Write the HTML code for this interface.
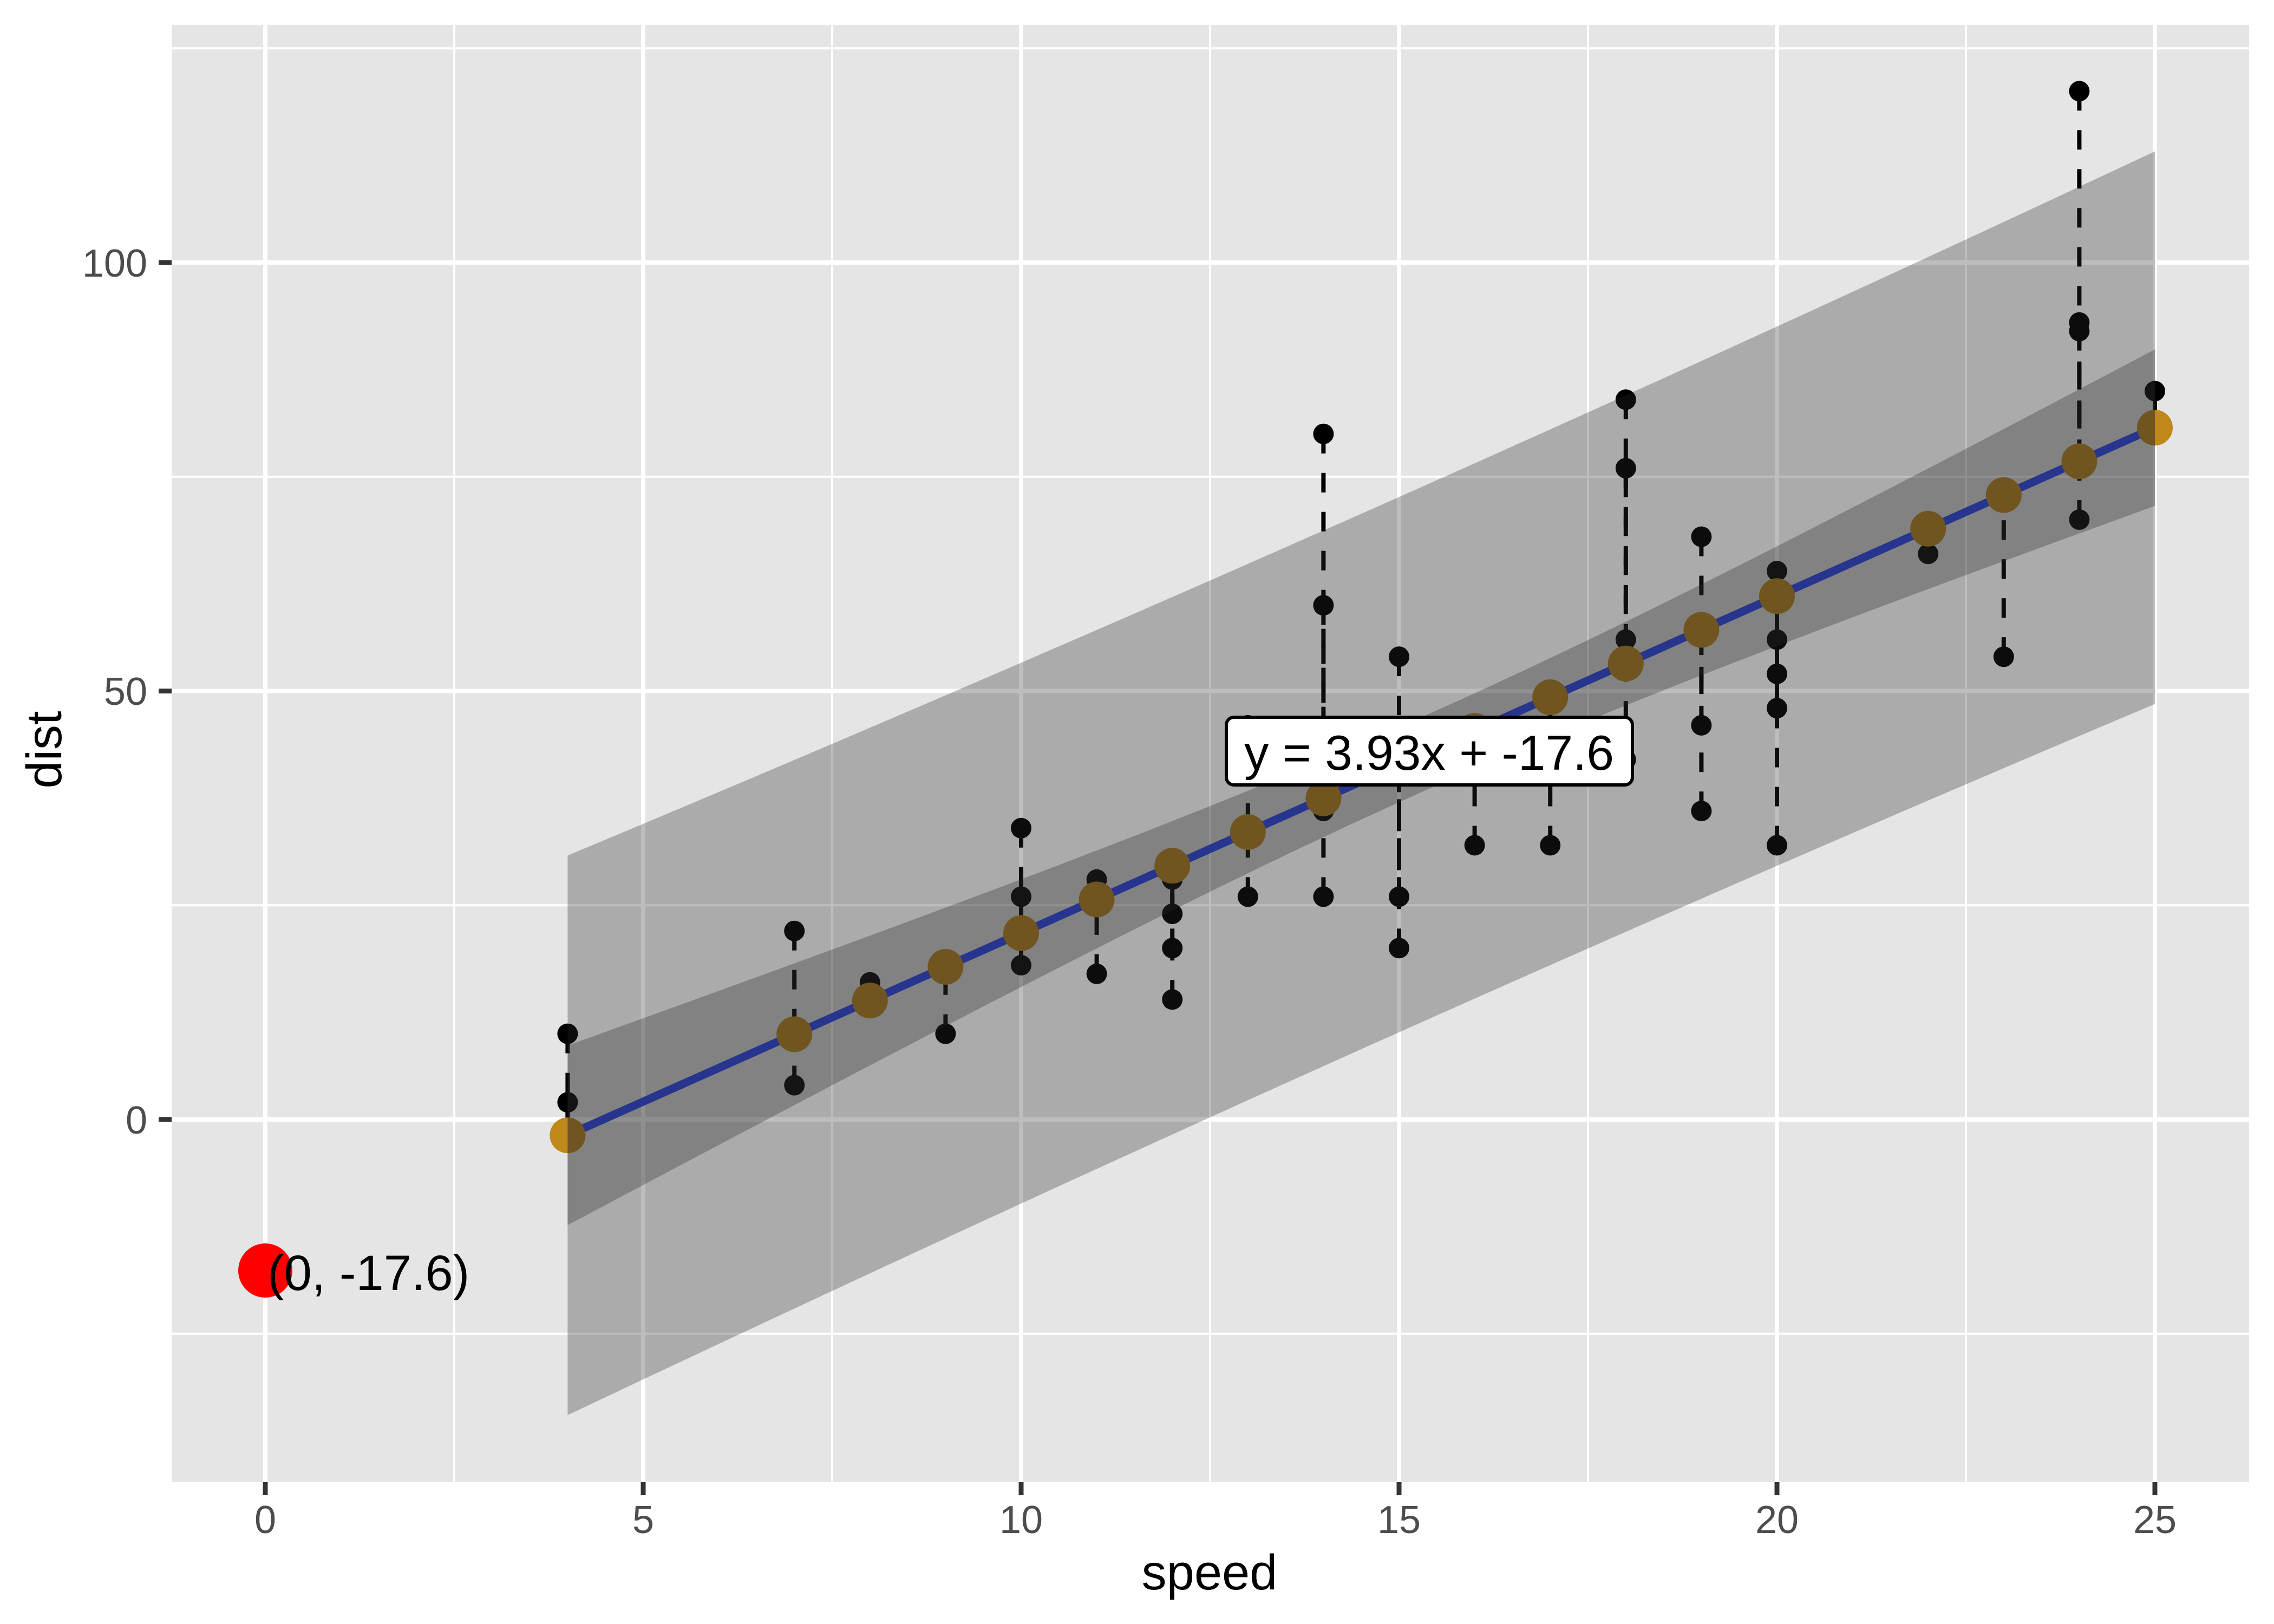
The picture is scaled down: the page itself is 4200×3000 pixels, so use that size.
<!DOCTYPE html>
<html><head><meta charset="utf-8"><style>
html,body{margin:0;padding:0;background:#fff;}
svg{display:block;}
text{font-family:"Liberation Sans",Arial,sans-serif;}
</style></head><body>
<svg id="s" width="4200" height="3000" viewBox="0 0 4200 3000" xmlns="http://www.w3.org/2000/svg">
<rect x="0" y="0" width="4200" height="3000" fill="#fff"/>
<rect x="317" y="46" width="3837" height="2692" fill="#E5E5E5"/>
<g id="grid"></g>
<g id="data"></g>
<g id="rib"></g>
<g id="top"></g>
<!-- red point & label -->
<circle cx="490" cy="2347" r="50" fill="#FF0000"/>
<text x="494" y="2383" font-size="92" fill="#000">(0, -17.6)</text>
<!-- equation label -->
<rect x="2265" y="1325" width="750" height="125" rx="14" ry="14" fill="#fff" stroke="#000" stroke-width="6"/>
<text x="2298" y="1422" font-size="91" fill="#000">y = 3.93x + -17.6</text>
<!-- axes ticks -->
<g stroke="#333" stroke-width="9">
<line x1="293" y1="2068" x2="317" y2="2068"/>
<line x1="293" y1="1276.5" x2="317" y2="1276.5"/>
<line x1="293" y1="485" x2="317" y2="485"/>
<line x1="490" y1="2738" x2="490" y2="2762"/>
<line x1="1188" y1="2738" x2="1188" y2="2762"/>
<line x1="1886" y1="2738" x2="1886" y2="2762"/>
<line x1="2584" y1="2738" x2="2584" y2="2762"/>
<line x1="3282" y1="2738" x2="3282" y2="2762"/>
<line x1="3980" y1="2738" x2="3980" y2="2762"/>
</g>
<g font-size="72" fill="#4D4D4D" text-anchor="end">
<text x="272" y="2094">0</text>
<text x="272" y="1302">50</text>
<text x="272" y="511">100</text>
</g>
<g font-size="72" fill="#4D4D4D" text-anchor="middle">
<text x="490" y="2832">0</text>
<text x="1188" y="2832">5</text>
<text x="1886" y="2832">10</text>
<text x="2584" y="2832">15</text>
<text x="3282" y="2832">20</text>
<text x="3980" y="2832">25</text>
</g>
<text x="2234" y="2936" font-size="92" text-anchor="middle" fill="#000">speed</text>
<text transform="translate(113,1385) rotate(-90)" font-size="92" text-anchor="middle" fill="#000">dist</text>
</svg>
<script>
(function(){
var NS="http://www.w3.org/2000/svg";
function X(v){return 490+v*139.6;}
function Y(v){return 2068-v*15.83;}
function el(p,t,a){var e=document.createElementNS(NS,t);for(var k in a)e.setAttribute(k,a[k]);p.appendChild(e);return e;}
var g=document.getElementById('grid');
// minor
[-2.5*0, 2.5,7.5,12.5,17.5,22.5].forEach(function(v){if(v)el(g,'line',{x1:X(v),x2:X(v),y1:46,y2:2738,stroke:'#fff','stroke-width':4});});
[-25,25,75,125].forEach(function(v){el(g,'line',{x1:317,x2:4154,y1:Y(v),y2:Y(v),stroke:'#fff','stroke-width':4});});
[0,5,10,15,20,25].forEach(function(v){el(g,'line',{x1:X(v),x2:X(v),y1:46,y2:2738,stroke:'#fff','stroke-width':8});});
[0,50,100].forEach(function(v){el(g,'line',{x1:317,x2:4154,y1:Y(v),y2:Y(v),stroke:'#fff','stroke-width':8});});
var d=[[4,2],[4,10],[7,4],[7,22],[8,16],[9,10],[10,18],[10,26],[10,34],[11,17],[11,28],[12,14],[12,20],[12,24],[12,28],[13,26],[13,34],[13,34],[13,46],[14,26],[14,36],[14,60],[14,80],[15,20],[15,26],[15,54],[16,32],[16,40],[17,32],[17,40],[17,50],[18,42],[18,56],[18,76],[18,84],[19,36],[19,46],[19,68],[20,32],[20,48],[20,52],[20,56],[20,64],[22,66],[23,54],[24,70],[24,92],[24,93],[24,120],[25,85]];
var a=-17.5791,b=3.9324;
function f(x){return a+b*x;}
var D=document.getElementById('data');
d.forEach(function(p){el(D,'line',{x1:X(p[0]),x2:X(p[0]),y1:Y(p[1]),y2:Y(f(p[0])),stroke:'#000','stroke-width':8,'stroke-dasharray':'36 36'});});
d.forEach(function(p){el(D,'circle',{cx:X(p[0]),cy:Y(p[1]),r:19,fill:'#000'});});
el(D,'line',{x1:X(4),y1:Y(f(4)),x2:X(25),y2:Y(f(25)),stroke:'rgb(39,70,253)','stroke-width':15});
var us=[4,7,8,9,10,11,12,13,14,15,16,17,18,19,20,22,23,24,25];
us.forEach(function(x){el(D,'circle',{cx:X(x),cy:Y(f(x)),r:33,fill:'#C0871A'});});
var R=document.getElementById('rib');
var s=15.38,t=2.0106,m=15.4,Sxx=1370;
function band(extra){var up=[],lo=[];for(var i=0;i<=84;i++){var x=4+21*i/84;var h=t*s*Math.sqrt(extra+1/50+(x-m)*(x-m)/Sxx);up.push(X(x)+','+Y(f(x)+h));lo.unshift(X(x)+','+Y(f(x)-h));}return up.concat(lo).join(' ');}
el(R,'polygon',{points:band(1),fill:'rgb(39,39,39)','fill-opacity':0.306});
el(R,'polygon',{points:band(0),fill:'rgb(39,39,39)','fill-opacity':0.306});
})();
</script>
</body></html>
